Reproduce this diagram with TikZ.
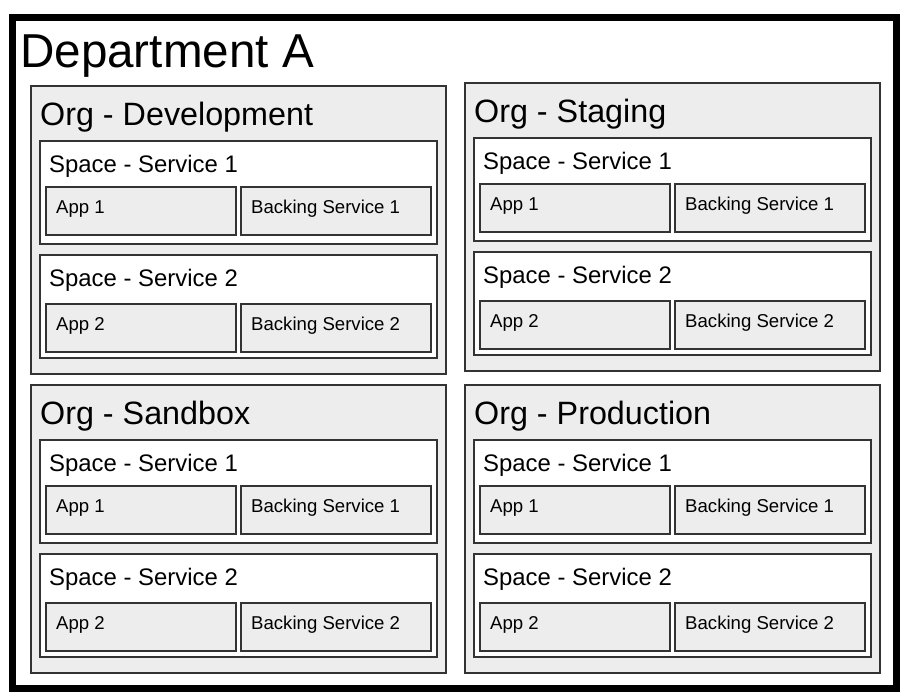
\documentclass[tikz,border=0pt]{standalone}
\usepackage{fontspec}
\setmainfont{Liberation Sans}
\begin{document}
\begin{tikzpicture}[x=1pt,y=-1pt,
  box/.style={draw=black!80, line width=1.2pt, inner sep=0pt, outer sep=0pt, anchor=north west, rectangle},
  deptbox/.style={draw=black, line width=7pt, fill=white, inner sep=0pt, anchor=north west, rectangle, minimum width=884pt, minimum height=671pt},
  orgbox/.style={box, fill=black!7, minimum width=415pt, minimum height=288pt},
  spacebox/.style={box, fill=white, minimum width=397pt, minimum height=103pt},
  appbox/.style={box, fill=black!7, minimum width=190pt, minimum height=48pt},
  lbl/.style={anchor=base west, inner sep=0pt, text=black},
  deptlbl/.style={lbl, font=\fontsize{47.6}{50}\selectfont},
  orglbl/.style={lbl, font=\fontsize{32.3}{34}\selectfont},
  spacelbl/.style={lbl, font=\fontsize{23.9}{26}\selectfont},
  applbl/.style={lbl, font=\fontsize{18.6}{20}\selectfont}]
\useasboundingbox (0,0) rectangle (906,697);
\node[deptbox] (dept) at (9,14) {};
\node[deptlbl] (deptname) at (20,67) {Department A};
\foreach \L/\T/\name/\id in {31/86/Development/dev, 465/83/Staging/stg, 31/385/Sandbox/sbx, 465/385/Production/prd}{
  \node[orgbox] (org-\id) at (\L,\T) {};
  \node[orglbl] (orglbl-\id) at (\L+9,\T+39) {Org - \name};
  \node[spacebox] (sp1-\id) at (\L+9,\T+55) {};
  \node[spacelbl] (sp1lbl-\id) at (\L+18,\T+86) {Space - Service 1};
  \node[appbox] (app1-\id) at (\L+15,\T+101) {};
  \node[applbl] (app1lbl-\id) at (\L+25,\T+127) {App 1};
  \node[appbox] (bs1-\id) at (\L+210,\T+101) {};
  \node[applbl] (bs1lbl-\id) at (\L+220,\T+127) {Backing Service 1};
  \node[spacebox] (sp2-\id) at (\L+9,\T+169) {};
  \node[spacelbl] (sp2lbl-\id) at (\L+18,\T+200) {Space - Service 2};
  \node[appbox] (app2-\id) at (\L+15,\T+218) {};
  \node[applbl] (app2lbl-\id) at (\L+25,\T+244) {App 2};
  \node[appbox] (bs2-\id) at (\L+210,\T+218) {};
  \node[applbl] (bs2lbl-\id) at (\L+220,\T+244) {Backing Service 2};
}
\end{tikzpicture}
\end{document}
